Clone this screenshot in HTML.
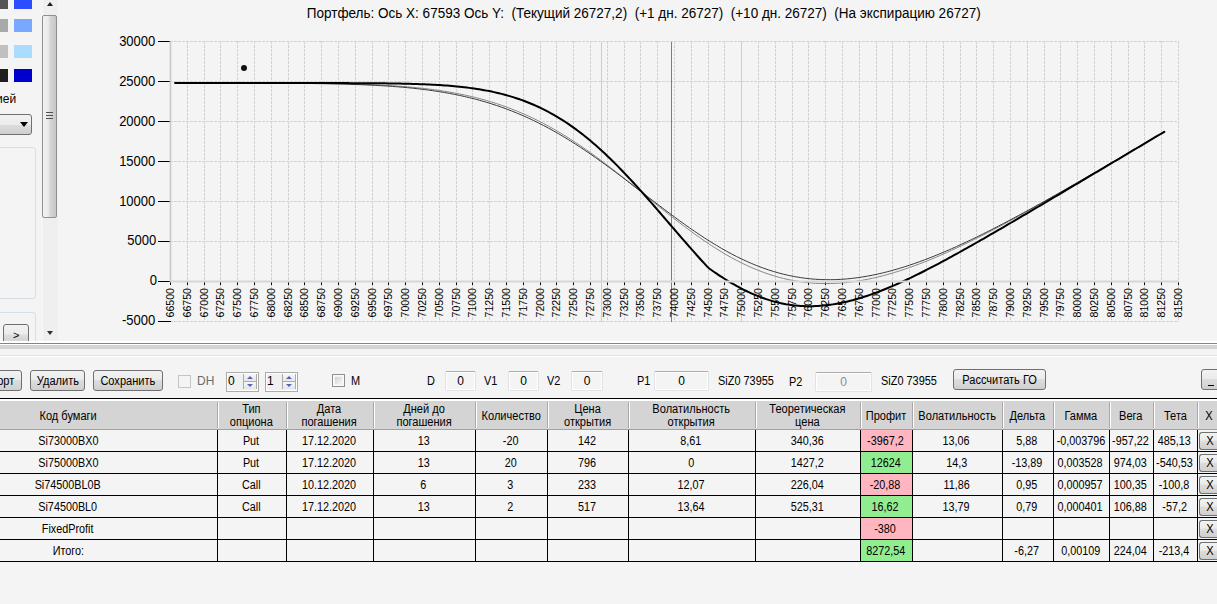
<!DOCTYPE html>
<html><head><meta charset="utf-8"><style>
html,body{margin:0;padding:0}
body{width:1217px;height:604px;overflow:hidden;position:relative;background:#f4f4f4;font-family:"Liberation Sans", sans-serif;color:#000}
.a{position:absolute}

.btn{border:1px solid #707070;border-radius:3px;background:linear-gradient(#f2f2f2 0,#ebebeb 45%,#dddddd 50%,#cfcfcf 100%);display:flex;align-items:center;justify-content:center;white-space:nowrap}
.hd{box-sizing:border-box;padding-top:2px;padding-right:1px;display:flex;align-items:center;justify-content:center;text-align:center;font-size:12px;line-height:13px;white-space:nowrap}
.hd span,.btn span{display:inline-block;transform:scaleX(.92)}
.cell span{display:inline-block;transform:scaleX(.9)}
.cell{box-sizing:border-box;padding-top:1px;padding-right:2px;font-size:12px;line-height:21px;text-align:center;white-space:nowrap}
.lb{font-size:12px;line-height:14px;white-space:nowrap;transform:scaleX(.91);transform-origin:0 0}

</style></head><body>
<svg width="1217" height="341" style="position:absolute;left:0;top:0"><line x1="187.5" y1="41" x2="187.5" y2="321" stroke="#d2d2d2" stroke-dasharray="3,1"/><line x1="204.5" y1="41" x2="204.5" y2="321" stroke="#d2d2d2" stroke-dasharray="3,1"/><line x1="220.5" y1="41" x2="220.5" y2="321" stroke="#d2d2d2" stroke-dasharray="3,1"/><line x1="237.5" y1="41" x2="237.5" y2="321" stroke="#d2d2d2" stroke-dasharray="3,1"/><line x1="254.5" y1="41" x2="254.5" y2="321" stroke="#d2d2d2" stroke-dasharray="3,1"/><line x1="271.5" y1="41" x2="271.5" y2="321" stroke="#d2d2d2" stroke-dasharray="3,1"/><line x1="288.5" y1="41" x2="288.5" y2="321" stroke="#d2d2d2" stroke-dasharray="3,1"/><line x1="304.5" y1="41" x2="304.5" y2="321" stroke="#d2d2d2" stroke-dasharray="3,1"/><line x1="321.5" y1="41" x2="321.5" y2="321" stroke="#d2d2d2" stroke-dasharray="3,1"/><line x1="338.5" y1="41" x2="338.5" y2="321" stroke="#d2d2d2" stroke-dasharray="3,1"/><line x1="355.5" y1="41" x2="355.5" y2="321" stroke="#d2d2d2" stroke-dasharray="3,1"/><line x1="372.5" y1="41" x2="372.5" y2="321" stroke="#d2d2d2" stroke-dasharray="3,1"/><line x1="388.5" y1="41" x2="388.5" y2="321" stroke="#d2d2d2" stroke-dasharray="3,1"/><line x1="405.5" y1="41" x2="405.5" y2="321" stroke="#d2d2d2" stroke-dasharray="3,1"/><line x1="422.5" y1="41" x2="422.5" y2="321" stroke="#d2d2d2" stroke-dasharray="3,1"/><line x1="439.5" y1="41" x2="439.5" y2="321" stroke="#d2d2d2" stroke-dasharray="3,1"/><line x1="456.5" y1="41" x2="456.5" y2="321" stroke="#d2d2d2" stroke-dasharray="3,1"/><line x1="472.5" y1="41" x2="472.5" y2="321" stroke="#d2d2d2" stroke-dasharray="3,1"/><line x1="489.5" y1="41" x2="489.5" y2="321" stroke="#d2d2d2" stroke-dasharray="3,1"/><line x1="506.5" y1="41" x2="506.5" y2="321" stroke="#d2d2d2" stroke-dasharray="3,1"/><line x1="523.5" y1="41" x2="523.5" y2="321" stroke="#d2d2d2" stroke-dasharray="3,1"/><line x1="540.5" y1="41" x2="540.5" y2="321" stroke="#d2d2d2" stroke-dasharray="3,1"/><line x1="556.5" y1="41" x2="556.5" y2="321" stroke="#d2d2d2" stroke-dasharray="3,1"/><line x1="573.5" y1="41" x2="573.5" y2="321" stroke="#d2d2d2" stroke-dasharray="3,1"/><line x1="590.5" y1="41" x2="590.5" y2="321" stroke="#d2d2d2" stroke-dasharray="3,1"/><line x1="607.5" y1="41" x2="607.5" y2="321" stroke="#d2d2d2" stroke-dasharray="3,1"/><line x1="624.5" y1="41" x2="624.5" y2="321" stroke="#d2d2d2" stroke-dasharray="3,1"/><line x1="640.5" y1="41" x2="640.5" y2="321" stroke="#d2d2d2" stroke-dasharray="3,1"/><line x1="657.5" y1="41" x2="657.5" y2="321" stroke="#d2d2d2" stroke-dasharray="3,1"/><line x1="674.5" y1="41" x2="674.5" y2="321" stroke="#d2d2d2" stroke-dasharray="3,1"/><line x1="691.5" y1="41" x2="691.5" y2="321" stroke="#d2d2d2" stroke-dasharray="3,1"/><line x1="708.5" y1="41" x2="708.5" y2="321" stroke="#d2d2d2" stroke-dasharray="3,1"/><line x1="724.5" y1="41" x2="724.5" y2="321" stroke="#d2d2d2" stroke-dasharray="3,1"/><line x1="741.5" y1="41" x2="741.5" y2="321" stroke="#d2d2d2" stroke-dasharray="3,1"/><line x1="758.5" y1="41" x2="758.5" y2="321" stroke="#d2d2d2" stroke-dasharray="3,1"/><line x1="775.5" y1="41" x2="775.5" y2="321" stroke="#d2d2d2" stroke-dasharray="3,1"/><line x1="792.5" y1="41" x2="792.5" y2="321" stroke="#d2d2d2" stroke-dasharray="3,1"/><line x1="808.5" y1="41" x2="808.5" y2="321" stroke="#d2d2d2" stroke-dasharray="3,1"/><line x1="825.5" y1="41" x2="825.5" y2="321" stroke="#d2d2d2" stroke-dasharray="3,1"/><line x1="842.5" y1="41" x2="842.5" y2="321" stroke="#d2d2d2" stroke-dasharray="3,1"/><line x1="859.5" y1="41" x2="859.5" y2="321" stroke="#d2d2d2" stroke-dasharray="3,1"/><line x1="876.5" y1="41" x2="876.5" y2="321" stroke="#d2d2d2" stroke-dasharray="3,1"/><line x1="892.5" y1="41" x2="892.5" y2="321" stroke="#d2d2d2" stroke-dasharray="3,1"/><line x1="909.5" y1="41" x2="909.5" y2="321" stroke="#d2d2d2" stroke-dasharray="3,1"/><line x1="926.5" y1="41" x2="926.5" y2="321" stroke="#d2d2d2" stroke-dasharray="3,1"/><line x1="943.5" y1="41" x2="943.5" y2="321" stroke="#d2d2d2" stroke-dasharray="3,1"/><line x1="960.5" y1="41" x2="960.5" y2="321" stroke="#d2d2d2" stroke-dasharray="3,1"/><line x1="976.5" y1="41" x2="976.5" y2="321" stroke="#d2d2d2" stroke-dasharray="3,1"/><line x1="993.5" y1="41" x2="993.5" y2="321" stroke="#d2d2d2" stroke-dasharray="3,1"/><line x1="1010.5" y1="41" x2="1010.5" y2="321" stroke="#d2d2d2" stroke-dasharray="3,1"/><line x1="1027.5" y1="41" x2="1027.5" y2="321" stroke="#d2d2d2" stroke-dasharray="3,1"/><line x1="1044.5" y1="41" x2="1044.5" y2="321" stroke="#d2d2d2" stroke-dasharray="3,1"/><line x1="1060.5" y1="41" x2="1060.5" y2="321" stroke="#d2d2d2" stroke-dasharray="3,1"/><line x1="1077.5" y1="41" x2="1077.5" y2="321" stroke="#d2d2d2" stroke-dasharray="3,1"/><line x1="1094.5" y1="41" x2="1094.5" y2="321" stroke="#d2d2d2" stroke-dasharray="3,1"/><line x1="1111.5" y1="41" x2="1111.5" y2="321" stroke="#d2d2d2" stroke-dasharray="3,1"/><line x1="1128.5" y1="41" x2="1128.5" y2="321" stroke="#d2d2d2" stroke-dasharray="3,1"/><line x1="1144.5" y1="41" x2="1144.5" y2="321" stroke="#d2d2d2" stroke-dasharray="3,1"/><line x1="1161.5" y1="41" x2="1161.5" y2="321" stroke="#d2d2d2" stroke-dasharray="3,1"/><line x1="1178.5" y1="41" x2="1178.5" y2="321" stroke="#d2d2d2" stroke-dasharray="3,1"/><line x1="170" y1="41.5" x2="1179" y2="41.5" stroke="#d2d2d2" stroke-dasharray="3,1"/><line x1="170" y1="81.5" x2="1179" y2="81.5" stroke="#d2d2d2" stroke-dasharray="3,1"/><line x1="170" y1="121.5" x2="1179" y2="121.5" stroke="#d2d2d2" stroke-dasharray="3,1"/><line x1="170" y1="161.5" x2="1179" y2="161.5" stroke="#d2d2d2" stroke-dasharray="3,1"/><line x1="170" y1="201.5" x2="1179" y2="201.5" stroke="#d2d2d2" stroke-dasharray="3,1"/><line x1="170" y1="241.5" x2="1179" y2="241.5" stroke="#d2d2d2" stroke-dasharray="3,1"/><line x1="170" y1="321.5" x2="1179" y2="321.5" stroke="#d2d2d2" stroke-dasharray="3,1"/><line x1="601.5" y1="42" x2="601.5" y2="322" stroke="#ffb6c1" stroke-width="1"/><line x1="741.5" y1="42" x2="741.5" y2="322" stroke="#ffb6c1" stroke-width="1"/><line x1="671.5" y1="42" x2="671.5" y2="322" stroke="#708090" stroke-width="1"/><text transform="translate(173.5,288) rotate(-90)" text-anchor="end" font-size="10.6" fill="#000" font-family='"Liberation Sans", sans-serif'>66500</text><text transform="translate(190.5,288) rotate(-90)" text-anchor="end" font-size="10.6" fill="#000" font-family='"Liberation Sans", sans-serif'>66750</text><text transform="translate(207.5,288) rotate(-90)" text-anchor="end" font-size="10.6" fill="#000" font-family='"Liberation Sans", sans-serif'>67000</text><text transform="translate(223.5,288) rotate(-90)" text-anchor="end" font-size="10.6" fill="#000" font-family='"Liberation Sans", sans-serif'>67250</text><text transform="translate(240.5,288) rotate(-90)" text-anchor="end" font-size="10.6" fill="#000" font-family='"Liberation Sans", sans-serif'>67500</text><text transform="translate(257.5,288) rotate(-90)" text-anchor="end" font-size="10.6" fill="#000" font-family='"Liberation Sans", sans-serif'>67750</text><text transform="translate(274.5,288) rotate(-90)" text-anchor="end" font-size="10.6" fill="#000" font-family='"Liberation Sans", sans-serif'>68000</text><text transform="translate(291.5,288) rotate(-90)" text-anchor="end" font-size="10.6" fill="#000" font-family='"Liberation Sans", sans-serif'>68250</text><text transform="translate(307.5,288) rotate(-90)" text-anchor="end" font-size="10.6" fill="#000" font-family='"Liberation Sans", sans-serif'>68500</text><text transform="translate(324.5,288) rotate(-90)" text-anchor="end" font-size="10.6" fill="#000" font-family='"Liberation Sans", sans-serif'>68750</text><text transform="translate(341.5,288) rotate(-90)" text-anchor="end" font-size="10.6" fill="#000" font-family='"Liberation Sans", sans-serif'>69000</text><text transform="translate(358.5,288) rotate(-90)" text-anchor="end" font-size="10.6" fill="#000" font-family='"Liberation Sans", sans-serif'>69250</text><text transform="translate(375.5,288) rotate(-90)" text-anchor="end" font-size="10.6" fill="#000" font-family='"Liberation Sans", sans-serif'>69500</text><text transform="translate(391.5,288) rotate(-90)" text-anchor="end" font-size="10.6" fill="#000" font-family='"Liberation Sans", sans-serif'>69750</text><text transform="translate(408.5,288) rotate(-90)" text-anchor="end" font-size="10.6" fill="#000" font-family='"Liberation Sans", sans-serif'>70000</text><text transform="translate(425.5,288) rotate(-90)" text-anchor="end" font-size="10.6" fill="#000" font-family='"Liberation Sans", sans-serif'>70250</text><text transform="translate(442.5,288) rotate(-90)" text-anchor="end" font-size="10.6" fill="#000" font-family='"Liberation Sans", sans-serif'>70500</text><text transform="translate(459.5,288) rotate(-90)" text-anchor="end" font-size="10.6" fill="#000" font-family='"Liberation Sans", sans-serif'>70750</text><text transform="translate(475.5,288) rotate(-90)" text-anchor="end" font-size="10.6" fill="#000" font-family='"Liberation Sans", sans-serif'>71000</text><text transform="translate(492.5,288) rotate(-90)" text-anchor="end" font-size="10.6" fill="#000" font-family='"Liberation Sans", sans-serif'>71250</text><text transform="translate(509.5,288) rotate(-90)" text-anchor="end" font-size="10.6" fill="#000" font-family='"Liberation Sans", sans-serif'>71500</text><text transform="translate(526.5,288) rotate(-90)" text-anchor="end" font-size="10.6" fill="#000" font-family='"Liberation Sans", sans-serif'>71750</text><text transform="translate(543.5,288) rotate(-90)" text-anchor="end" font-size="10.6" fill="#000" font-family='"Liberation Sans", sans-serif'>72000</text><text transform="translate(559.5,288) rotate(-90)" text-anchor="end" font-size="10.6" fill="#000" font-family='"Liberation Sans", sans-serif'>72250</text><text transform="translate(576.5,288) rotate(-90)" text-anchor="end" font-size="10.6" fill="#000" font-family='"Liberation Sans", sans-serif'>72500</text><text transform="translate(593.5,288) rotate(-90)" text-anchor="end" font-size="10.6" fill="#000" font-family='"Liberation Sans", sans-serif'>72750</text><text transform="translate(610.5,288) rotate(-90)" text-anchor="end" font-size="10.6" fill="#000" font-family='"Liberation Sans", sans-serif'>73000</text><text transform="translate(627.5,288) rotate(-90)" text-anchor="end" font-size="10.6" fill="#000" font-family='"Liberation Sans", sans-serif'>73250</text><text transform="translate(643.5,288) rotate(-90)" text-anchor="end" font-size="10.6" fill="#000" font-family='"Liberation Sans", sans-serif'>73500</text><text transform="translate(660.5,288) rotate(-90)" text-anchor="end" font-size="10.6" fill="#000" font-family='"Liberation Sans", sans-serif'>73750</text><text transform="translate(677.5,288) rotate(-90)" text-anchor="end" font-size="10.6" fill="#000" font-family='"Liberation Sans", sans-serif'>74000</text><text transform="translate(694.5,288) rotate(-90)" text-anchor="end" font-size="10.6" fill="#000" font-family='"Liberation Sans", sans-serif'>74250</text><text transform="translate(711.5,288) rotate(-90)" text-anchor="end" font-size="10.6" fill="#000" font-family='"Liberation Sans", sans-serif'>74500</text><text transform="translate(727.5,288) rotate(-90)" text-anchor="end" font-size="10.6" fill="#000" font-family='"Liberation Sans", sans-serif'>74750</text><text transform="translate(744.5,288) rotate(-90)" text-anchor="end" font-size="10.6" fill="#000" font-family='"Liberation Sans", sans-serif'>75000</text><text transform="translate(761.5,288) rotate(-90)" text-anchor="end" font-size="10.6" fill="#000" font-family='"Liberation Sans", sans-serif'>75250</text><text transform="translate(778.5,288) rotate(-90)" text-anchor="end" font-size="10.6" fill="#000" font-family='"Liberation Sans", sans-serif'>75500</text><text transform="translate(795.5,288) rotate(-90)" text-anchor="end" font-size="10.6" fill="#000" font-family='"Liberation Sans", sans-serif'>75750</text><text transform="translate(811.5,288) rotate(-90)" text-anchor="end" font-size="10.6" fill="#000" font-family='"Liberation Sans", sans-serif'>76000</text><text transform="translate(828.5,288) rotate(-90)" text-anchor="end" font-size="10.6" fill="#000" font-family='"Liberation Sans", sans-serif'>76250</text><text transform="translate(845.5,288) rotate(-90)" text-anchor="end" font-size="10.6" fill="#000" font-family='"Liberation Sans", sans-serif'>76500</text><text transform="translate(862.5,288) rotate(-90)" text-anchor="end" font-size="10.6" fill="#000" font-family='"Liberation Sans", sans-serif'>76750</text><text transform="translate(879.5,288) rotate(-90)" text-anchor="end" font-size="10.6" fill="#000" font-family='"Liberation Sans", sans-serif'>77000</text><text transform="translate(895.5,288) rotate(-90)" text-anchor="end" font-size="10.6" fill="#000" font-family='"Liberation Sans", sans-serif'>77250</text><text transform="translate(912.5,288) rotate(-90)" text-anchor="end" font-size="10.6" fill="#000" font-family='"Liberation Sans", sans-serif'>77500</text><text transform="translate(929.5,288) rotate(-90)" text-anchor="end" font-size="10.6" fill="#000" font-family='"Liberation Sans", sans-serif'>77750</text><text transform="translate(946.5,288) rotate(-90)" text-anchor="end" font-size="10.6" fill="#000" font-family='"Liberation Sans", sans-serif'>78000</text><text transform="translate(963.5,288) rotate(-90)" text-anchor="end" font-size="10.6" fill="#000" font-family='"Liberation Sans", sans-serif'>78250</text><text transform="translate(979.5,288) rotate(-90)" text-anchor="end" font-size="10.6" fill="#000" font-family='"Liberation Sans", sans-serif'>78500</text><text transform="translate(996.5,288) rotate(-90)" text-anchor="end" font-size="10.6" fill="#000" font-family='"Liberation Sans", sans-serif'>78750</text><text transform="translate(1013.5,288) rotate(-90)" text-anchor="end" font-size="10.6" fill="#000" font-family='"Liberation Sans", sans-serif'>79000</text><text transform="translate(1030.5,288) rotate(-90)" text-anchor="end" font-size="10.6" fill="#000" font-family='"Liberation Sans", sans-serif'>79250</text><text transform="translate(1047.5,288) rotate(-90)" text-anchor="end" font-size="10.6" fill="#000" font-family='"Liberation Sans", sans-serif'>79500</text><text transform="translate(1063.5,288) rotate(-90)" text-anchor="end" font-size="10.6" fill="#000" font-family='"Liberation Sans", sans-serif'>79750</text><text transform="translate(1080.5,288) rotate(-90)" text-anchor="end" font-size="10.6" fill="#000" font-family='"Liberation Sans", sans-serif'>80000</text><text transform="translate(1097.5,288) rotate(-90)" text-anchor="end" font-size="10.6" fill="#000" font-family='"Liberation Sans", sans-serif'>80250</text><text transform="translate(1114.5,288) rotate(-90)" text-anchor="end" font-size="10.6" fill="#000" font-family='"Liberation Sans", sans-serif'>80500</text><text transform="translate(1131.5,288) rotate(-90)" text-anchor="end" font-size="10.6" fill="#000" font-family='"Liberation Sans", sans-serif'>80750</text><text transform="translate(1147.5,288) rotate(-90)" text-anchor="end" font-size="10.6" fill="#000" font-family='"Liberation Sans", sans-serif'>81000</text><text transform="translate(1164.5,288) rotate(-90)" text-anchor="end" font-size="10.6" fill="#000" font-family='"Liberation Sans", sans-serif'>81250</text><text transform="translate(1181.5,288) rotate(-90)" text-anchor="end" font-size="10.6" fill="#000" font-family='"Liberation Sans", sans-serif'>81500</text><line x1="170.5" y1="282" x2="170.5" y2="285" stroke="#000"/><line x1="187.5" y1="282" x2="187.5" y2="285" stroke="#000"/><line x1="204.5" y1="282" x2="204.5" y2="285" stroke="#000"/><line x1="220.5" y1="282" x2="220.5" y2="285" stroke="#000"/><line x1="237.5" y1="282" x2="237.5" y2="285" stroke="#000"/><line x1="254.5" y1="282" x2="254.5" y2="285" stroke="#000"/><line x1="271.5" y1="282" x2="271.5" y2="285" stroke="#000"/><line x1="288.5" y1="282" x2="288.5" y2="285" stroke="#000"/><line x1="304.5" y1="282" x2="304.5" y2="285" stroke="#000"/><line x1="321.5" y1="282" x2="321.5" y2="285" stroke="#000"/><line x1="338.5" y1="282" x2="338.5" y2="285" stroke="#000"/><line x1="355.5" y1="282" x2="355.5" y2="285" stroke="#000"/><line x1="372.5" y1="282" x2="372.5" y2="285" stroke="#000"/><line x1="388.5" y1="282" x2="388.5" y2="285" stroke="#000"/><line x1="405.5" y1="282" x2="405.5" y2="285" stroke="#000"/><line x1="422.5" y1="282" x2="422.5" y2="285" stroke="#000"/><line x1="439.5" y1="282" x2="439.5" y2="285" stroke="#000"/><line x1="456.5" y1="282" x2="456.5" y2="285" stroke="#000"/><line x1="472.5" y1="282" x2="472.5" y2="285" stroke="#000"/><line x1="489.5" y1="282" x2="489.5" y2="285" stroke="#000"/><line x1="506.5" y1="282" x2="506.5" y2="285" stroke="#000"/><line x1="523.5" y1="282" x2="523.5" y2="285" stroke="#000"/><line x1="540.5" y1="282" x2="540.5" y2="285" stroke="#000"/><line x1="556.5" y1="282" x2="556.5" y2="285" stroke="#000"/><line x1="573.5" y1="282" x2="573.5" y2="285" stroke="#000"/><line x1="590.5" y1="282" x2="590.5" y2="285" stroke="#000"/><line x1="607.5" y1="282" x2="607.5" y2="285" stroke="#000"/><line x1="624.5" y1="282" x2="624.5" y2="285" stroke="#000"/><line x1="640.5" y1="282" x2="640.5" y2="285" stroke="#000"/><line x1="657.5" y1="282" x2="657.5" y2="285" stroke="#000"/><line x1="674.5" y1="282" x2="674.5" y2="285" stroke="#000"/><line x1="691.5" y1="282" x2="691.5" y2="285" stroke="#000"/><line x1="708.5" y1="282" x2="708.5" y2="285" stroke="#000"/><line x1="724.5" y1="282" x2="724.5" y2="285" stroke="#000"/><line x1="741.5" y1="282" x2="741.5" y2="285" stroke="#000"/><line x1="758.5" y1="282" x2="758.5" y2="285" stroke="#000"/><line x1="775.5" y1="282" x2="775.5" y2="285" stroke="#000"/><line x1="792.5" y1="282" x2="792.5" y2="285" stroke="#000"/><line x1="808.5" y1="282" x2="808.5" y2="285" stroke="#000"/><line x1="825.5" y1="282" x2="825.5" y2="285" stroke="#000"/><line x1="842.5" y1="282" x2="842.5" y2="285" stroke="#000"/><line x1="859.5" y1="282" x2="859.5" y2="285" stroke="#000"/><line x1="876.5" y1="282" x2="876.5" y2="285" stroke="#000"/><line x1="892.5" y1="282" x2="892.5" y2="285" stroke="#000"/><line x1="909.5" y1="282" x2="909.5" y2="285" stroke="#000"/><line x1="926.5" y1="282" x2="926.5" y2="285" stroke="#000"/><line x1="943.5" y1="282" x2="943.5" y2="285" stroke="#000"/><line x1="960.5" y1="282" x2="960.5" y2="285" stroke="#000"/><line x1="976.5" y1="282" x2="976.5" y2="285" stroke="#000"/><line x1="993.5" y1="282" x2="993.5" y2="285" stroke="#000"/><line x1="1010.5" y1="282" x2="1010.5" y2="285" stroke="#000"/><line x1="1027.5" y1="282" x2="1027.5" y2="285" stroke="#000"/><line x1="1044.5" y1="282" x2="1044.5" y2="285" stroke="#000"/><line x1="1060.5" y1="282" x2="1060.5" y2="285" stroke="#000"/><line x1="1077.5" y1="282" x2="1077.5" y2="285" stroke="#000"/><line x1="1094.5" y1="282" x2="1094.5" y2="285" stroke="#000"/><line x1="1111.5" y1="282" x2="1111.5" y2="285" stroke="#000"/><line x1="1128.5" y1="282" x2="1128.5" y2="285" stroke="#000"/><line x1="1144.5" y1="282" x2="1144.5" y2="285" stroke="#000"/><line x1="1161.5" y1="282" x2="1161.5" y2="285" stroke="#000"/><line x1="1178.5" y1="282" x2="1178.5" y2="285" stroke="#000"/><line x1="158" y1="41.5" x2="171" y2="41.5" stroke="#000"/><text transform="translate(155.3,45.5) scale(0.93,1)" text-anchor="end" font-size="14" fill="#000" font-family='"Liberation Sans", sans-serif'>30000</text><line x1="158" y1="81.5" x2="171" y2="81.5" stroke="#000"/><text transform="translate(155.3,85.5) scale(0.93,1)" text-anchor="end" font-size="14" fill="#000" font-family='"Liberation Sans", sans-serif'>25000</text><line x1="158" y1="121.5" x2="171" y2="121.5" stroke="#000"/><text transform="translate(155.3,125.5) scale(0.93,1)" text-anchor="end" font-size="14" fill="#000" font-family='"Liberation Sans", sans-serif'>20000</text><line x1="158" y1="161.5" x2="171" y2="161.5" stroke="#000"/><text transform="translate(155.3,165.5) scale(0.93,1)" text-anchor="end" font-size="14" fill="#000" font-family='"Liberation Sans", sans-serif'>15000</text><line x1="158" y1="201.5" x2="171" y2="201.5" stroke="#000"/><text transform="translate(155.3,205.5) scale(0.93,1)" text-anchor="end" font-size="14" fill="#000" font-family='"Liberation Sans", sans-serif'>10000</text><line x1="158" y1="241.5" x2="171" y2="241.5" stroke="#000"/><text transform="translate(156.3,244.5) scale(0.93,1)" text-anchor="end" font-size="14" fill="#000" font-family='"Liberation Sans", sans-serif'>5000</text><line x1="158" y1="281.5" x2="171" y2="281.5" stroke="#000"/><text transform="translate(157.10000000000002,284.5) scale(0.93,1)" text-anchor="end" font-size="14" fill="#000" font-family='"Liberation Sans", sans-serif'>0</text><line x1="158" y1="321.5" x2="171" y2="321.5" stroke="#000"/><text transform="translate(155.3,324.5) scale(0.93,1)" text-anchor="end" font-size="14" fill="#000" font-family='"Liberation Sans", sans-serif'>-5000</text><path d="M175.03,83.05 L177.51,83.05 L179.98,83.05 L182.45,83.05 L184.92,83.05 L187.40,83.05 L189.87,83.05 L192.34,83.05 L194.82,83.05 L197.29,83.05 L199.76,83.05 L202.24,83.05 L204.71,83.05 L207.18,83.05 L209.66,83.05 L212.13,83.06 L214.60,83.06 L217.08,83.06 L219.55,83.06 L222.02,83.06 L224.49,83.06 L226.97,83.06 L229.44,83.07 L231.91,83.07 L234.39,83.07 L236.86,83.07 L239.33,83.08 L241.81,83.08 L244.28,83.08 L246.75,83.09 L249.23,83.09 L251.70,83.09 L254.17,83.10 L256.65,83.10 L259.12,83.11 L261.59,83.11 L264.06,83.12 L266.54,83.13 L269.01,83.13 L271.48,83.14 L273.96,83.15 L276.43,83.16 L278.90,83.17 L281.38,83.18 L283.85,83.19 L286.32,83.20 L288.80,83.21 L291.27,83.22 L293.74,83.24 L296.22,83.25 L298.69,83.27 L301.16,83.29 L303.63,83.31 L306.11,83.33 L308.58,83.35 L311.05,83.37 L313.53,83.39 L316.00,83.42 L318.47,83.45 L320.95,83.48 L323.42,83.51 L325.89,83.54 L328.37,83.58 L330.84,83.62 L333.31,83.66 L335.79,83.70 L338.26,83.75 L340.73,83.79 L343.20,83.85 L345.68,83.90 L348.15,83.96 L350.62,84.02 L353.10,84.09 L355.57,84.15 L358.04,84.23 L360.52,84.30 L362.99,84.39 L365.46,84.47 L367.94,84.56 L370.41,84.66 L372.88,84.76 L375.36,84.87 L377.83,84.98 L380.30,85.10 L382.77,85.22 L385.25,85.35 L387.72,85.49 L390.19,85.64 L392.67,85.79 L395.14,85.95 L397.61,86.12 L400.09,86.29 L402.56,86.48 L405.03,86.67 L407.51,86.88 L409.98,87.09 L412.45,87.31 L414.93,87.55 L417.40,87.79 L419.87,88.04 L422.34,88.31 L424.82,88.59 L427.29,88.88 L429.76,89.18 L432.24,89.50 L434.71,89.83 L437.18,90.17 L439.66,90.53 L442.13,90.90 L444.60,91.28 L447.08,91.68 L449.55,92.10 L452.02,92.54 L454.50,92.99 L456.97,93.45 L459.44,93.94 L461.91,94.44 L464.39,94.96 L466.86,95.50 L469.33,96.06 L471.81,96.64 L474.28,97.24 L476.75,97.86 L479.23,98.50 L481.70,99.16 L484.17,99.84 L486.65,100.54 L489.12,101.27 L491.59,102.02 L494.07,102.79 L496.54,103.58 L499.01,104.40 L501.48,105.25 L503.96,106.11 L506.43,107.01 L508.90,107.92 L511.38,108.87 L513.85,109.83 L516.32,110.83 L518.80,111.84 L521.27,112.89 L523.74,113.96 L526.22,115.06 L528.69,116.18 L531.16,117.33 L533.64,118.51 L536.11,119.71 L538.58,120.94 L541.05,122.20 L543.53,123.49 L546.00,124.80 L548.47,126.14 L550.95,127.50 L553.42,128.89 L555.89,130.31 L558.37,131.75 L560.84,133.22 L563.31,134.72 L565.79,136.24 L568.26,137.79 L570.73,139.36 L573.21,140.95 L575.68,142.57 L578.15,144.22 L580.62,145.88 L583.10,147.57 L585.57,149.29 L588.04,151.02 L590.52,152.77 L592.99,154.55 L595.46,156.34 L597.94,158.16 L600.41,159.99 L602.88,161.84 L605.36,163.71 L607.83,165.59 L610.30,167.49 L612.78,169.40 L615.25,171.33 L617.72,173.27 L620.20,175.22 L622.67,177.18 L625.14,179.15 L627.61,181.13 L630.09,183.12 L632.56,185.11 L635.03,187.11 L637.51,189.11 L639.98,191.12 L642.45,193.13 L644.93,195.14 L647.40,197.15 L649.87,199.16 L652.35,201.17 L654.82,203.17 L657.29,205.17 L659.77,207.16 L662.24,209.15 L664.71,211.13 L667.18,213.09 L669.66,215.05 L672.13,217.00 L674.60,218.93 L677.08,220.86 L679.55,222.76 L682.02,224.65 L684.50,226.52 L686.97,228.38 L689.44,230.22 L691.92,232.03 L694.39,233.83 L696.86,235.60 L699.34,237.35 L701.81,239.07 L704.28,240.78 L706.75,242.45 L709.23,244.10 L711.70,245.72 L714.17,247.32 L716.65,248.88 L719.12,250.42 L721.59,251.92 L724.07,253.40 L726.54,254.84 L729.01,256.25 L731.49,257.63 L733.96,258.97 L736.43,260.29 L738.91,261.56 L741.38,262.81 L743.85,264.02 L746.32,265.19 L748.80,266.33 L751.27,267.43 L753.74,268.50 L756.22,269.53 L758.69,270.52 L761.16,271.48 L763.64,272.40 L766.11,273.28 L768.58,274.13 L771.06,274.94 L773.53,275.71 L776.00,276.45 L778.48,277.14 L780.95,277.81 L783.42,278.43 L785.89,279.02 L788.37,279.57 L790.84,280.09 L793.31,280.56 L795.79,281.01 L798.26,281.41 L800.73,281.78 L803.21,282.12 L805.68,282.42 L808.15,282.68 L810.63,282.91 L813.10,283.11 L815.57,283.27 L818.05,283.39 L820.52,283.48 L822.99,283.54 L825.46,283.57 L827.94,283.56 L830.41,283.52 L832.88,283.45 L835.36,283.35 L837.83,283.21 L840.30,283.05 L842.78,282.85 L845.25,282.63 L847.72,282.37 L850.20,282.09 L852.67,281.77 L855.14,281.43 L857.62,281.06 L860.09,280.66 L862.56,280.23 L865.03,279.78 L867.51,279.30 L869.98,278.80 L872.45,278.26 L874.93,277.71 L877.40,277.13 L879.87,276.52 L882.35,275.89 L884.82,275.24 L887.29,274.57 L889.77,273.87 L892.24,273.15 L894.71,272.41 L897.19,271.64 L899.66,270.86 L902.13,270.06 L904.60,269.23 L907.08,268.39 L909.55,267.52 L912.02,266.64 L914.50,265.74 L916.97,264.83 L919.44,263.89 L921.92,262.94 L924.39,261.97 L926.86,260.98 L929.34,259.98 L931.81,258.97 L934.28,257.93 L936.76,256.89 L939.23,255.83 L941.70,254.75 L944.17,253.66 L946.65,252.56 L949.12,251.45 L951.59,250.32 L954.07,249.18 L956.54,248.03 L959.01,246.87 L961.49,245.69 L963.96,244.51 L966.43,243.31 L968.91,242.11 L971.38,240.89 L973.85,239.67 L976.33,238.43 L978.80,237.19 L981.27,235.94 L983.74,234.68 L986.22,233.41 L988.69,232.13 L991.16,230.85 L993.64,229.55 L996.11,228.26 L998.58,226.95 L1001.06,225.64 L1003.53,224.32 L1006.00,222.99 L1008.48,221.66 L1010.95,220.32 L1013.42,218.98 L1015.90,217.63 L1018.37,216.28 L1020.84,214.92 L1023.31,213.55 L1025.79,212.19 L1028.26,210.81 L1030.73,209.44 L1033.21,208.06 L1035.68,206.67 L1038.15,205.28 L1040.63,203.89 L1043.10,202.49 L1045.57,201.09 L1048.05,199.69 L1050.52,198.28 L1052.99,196.87 L1055.47,195.46 L1057.94,194.05 L1060.41,192.63 L1062.88,191.21 L1065.36,189.78 L1067.83,188.36 L1070.30,186.93 L1072.78,185.50 L1075.25,184.07 L1077.72,182.64 L1080.20,181.20 L1082.67,179.77 L1085.14,178.33 L1087.62,176.89 L1090.09,175.44 L1092.56,174.00 L1095.04,172.56 L1097.51,171.11 L1099.98,169.66 L1102.45,168.21 L1104.93,166.76 L1107.40,165.31 L1109.87,163.86 L1112.35,162.40 L1114.82,160.95 L1117.29,159.49 L1119.77,158.04 L1122.24,156.58 L1124.71,155.12 L1127.19,153.67 L1129.66,152.21 L1132.13,150.75 L1134.61,149.29 L1137.08,147.82 L1139.55,146.36 L1142.03,144.90 L1144.50,143.44 L1146.97,141.97 L1149.44,140.51 L1151.92,139.04 L1154.39,137.58 L1156.86,136.11 L1159.34,134.65 L1161.81,133.18 L1164.28,131.72" fill="none" stroke="#858585" stroke-width="1"/><path d="M175.03,83.05 L177.51,83.05 L179.98,83.05 L182.45,83.05 L184.92,83.05 L187.40,83.05 L189.87,83.05 L192.34,83.05 L194.82,83.06 L197.29,83.06 L199.76,83.06 L202.24,83.06 L204.71,83.06 L207.18,83.06 L209.66,83.06 L212.13,83.07 L214.60,83.07 L217.08,83.07 L219.55,83.07 L222.02,83.07 L224.49,83.08 L226.97,83.08 L229.44,83.08 L231.91,83.09 L234.39,83.09 L236.86,83.09 L239.33,83.10 L241.81,83.10 L244.28,83.11 L246.75,83.11 L249.23,83.12 L251.70,83.12 L254.17,83.13 L256.65,83.14 L259.12,83.15 L261.59,83.15 L264.06,83.16 L266.54,83.17 L269.01,83.18 L271.48,83.19 L273.96,83.20 L276.43,83.22 L278.90,83.23 L281.38,83.24 L283.85,83.26 L286.32,83.27 L288.80,83.29 L291.27,83.31 L293.74,83.33 L296.22,83.35 L298.69,83.37 L301.16,83.40 L303.63,83.42 L306.11,83.45 L308.58,83.48 L311.05,83.51 L313.53,83.54 L316.00,83.57 L318.47,83.61 L320.95,83.65 L323.42,83.69 L325.89,83.73 L328.37,83.78 L330.84,83.83 L333.31,83.88 L335.79,83.93 L338.26,83.99 L340.73,84.05 L343.20,84.12 L345.68,84.19 L348.15,84.26 L350.62,84.33 L353.10,84.41 L355.57,84.50 L358.04,84.59 L360.52,84.68 L362.99,84.78 L365.46,84.88 L367.94,84.99 L370.41,85.11 L372.88,85.23 L375.36,85.36 L377.83,85.49 L380.30,85.63 L382.77,85.78 L385.25,85.93 L387.72,86.09 L390.19,86.26 L392.67,86.44 L395.14,86.62 L397.61,86.82 L400.09,87.02 L402.56,87.23 L405.03,87.45 L407.51,87.68 L409.98,87.92 L412.45,88.17 L414.93,88.43 L417.40,88.71 L419.87,88.99 L422.34,89.29 L424.82,89.60 L427.29,89.92 L429.76,90.25 L432.24,90.60 L434.71,90.96 L437.18,91.33 L439.66,91.72 L442.13,92.13 L444.60,92.55 L447.08,92.98 L449.55,93.43 L452.02,93.90 L454.50,94.38 L456.97,94.88 L459.44,95.39 L461.91,95.93 L464.39,96.48 L466.86,97.05 L469.33,97.64 L471.81,98.25 L474.28,98.88 L476.75,99.53 L479.23,100.20 L481.70,100.89 L484.17,101.60 L486.65,102.33 L489.12,103.08 L491.59,103.85 L494.07,104.65 L496.54,105.47 L499.01,106.31 L501.48,107.17 L503.96,108.06 L506.43,108.97 L508.90,109.90 L511.38,110.86 L513.85,111.84 L516.32,112.85 L518.80,113.87 L521.27,114.93 L523.74,116.01 L526.22,117.11 L528.69,118.23 L531.16,119.39 L533.64,120.56 L536.11,121.76 L538.58,122.99 L541.05,124.24 L543.53,125.51 L546.00,126.81 L548.47,128.13 L550.95,129.48 L553.42,130.85 L555.89,132.25 L558.37,133.67 L560.84,135.11 L563.31,136.57 L565.79,138.06 L568.26,139.57 L570.73,141.10 L573.21,142.66 L575.68,144.23 L578.15,145.83 L580.62,147.45 L583.10,149.08 L585.57,150.74 L588.04,152.42 L590.52,154.11 L592.99,155.82 L595.46,157.55 L597.94,159.29 L600.41,161.06 L602.88,162.83 L605.36,164.62 L607.83,166.43 L610.30,168.24 L612.78,170.07 L615.25,171.91 L617.72,173.76 L620.20,175.62 L622.67,177.49 L625.14,179.37 L627.61,181.25 L630.09,183.14 L632.56,185.04 L635.03,186.94 L637.51,188.84 L639.98,190.75 L642.45,192.65 L644.93,194.56 L647.40,196.46 L649.87,198.37 L652.35,200.27 L654.82,202.16 L657.29,204.06 L659.77,205.94 L662.24,207.82 L664.71,209.69 L667.18,211.56 L669.66,213.41 L672.13,215.25 L674.60,217.08 L677.08,218.90 L679.55,220.70 L682.02,222.49 L684.50,224.27 L686.97,226.02 L689.44,227.76 L691.92,229.49 L694.39,231.19 L696.86,232.87 L699.34,234.53 L701.81,236.17 L704.28,237.79 L706.75,239.38 L709.23,240.95 L711.70,242.50 L714.17,244.01 L716.65,245.51 L719.12,246.97 L721.59,248.41 L724.07,249.82 L726.54,251.21 L729.01,252.56 L731.49,253.88 L733.96,255.18 L736.43,256.44 L738.91,257.67 L741.38,258.87 L743.85,260.04 L746.32,261.18 L748.80,262.28 L751.27,263.35 L753.74,264.39 L756.22,265.39 L758.69,266.36 L761.16,267.30 L763.64,268.20 L766.11,269.07 L768.58,269.91 L771.06,270.71 L773.53,271.47 L776.00,272.20 L778.48,272.90 L780.95,273.56 L783.42,274.19 L785.89,274.78 L788.37,275.34 L790.84,275.87 L793.31,276.36 L795.79,276.81 L798.26,277.23 L800.73,277.62 L803.21,277.97 L805.68,278.29 L808.15,278.58 L810.63,278.83 L813.10,279.06 L815.57,279.24 L818.05,279.40 L820.52,279.52 L822.99,279.61 L825.46,279.67 L827.94,279.70 L830.41,279.69 L832.88,279.66 L835.36,279.59 L837.83,279.50 L840.30,279.37 L842.78,279.22 L845.25,279.03 L847.72,278.82 L850.20,278.58 L852.67,278.31 L855.14,278.01 L857.62,277.68 L860.09,277.33 L862.56,276.95 L865.03,276.54 L867.51,276.11 L869.98,275.65 L872.45,275.17 L874.93,274.66 L877.40,274.13 L879.87,273.57 L882.35,272.99 L884.82,272.39 L887.29,271.76 L889.77,271.12 L892.24,270.44 L894.71,269.75 L897.19,269.04 L899.66,268.30 L902.13,267.55 L904.60,266.77 L907.08,265.98 L909.55,265.16 L912.02,264.33 L914.50,263.48 L916.97,262.61 L919.44,261.72 L921.92,260.82 L924.39,259.90 L926.86,258.96 L929.34,258.00 L931.81,257.03 L934.28,256.04 L936.76,255.04 L939.23,254.03 L941.70,253.00 L944.17,251.95 L946.65,250.89 L949.12,249.82 L951.59,248.73 L954.07,247.64 L956.54,246.53 L959.01,245.40 L961.49,244.27 L963.96,243.12 L966.43,241.97 L968.91,240.80 L971.38,239.62 L973.85,238.43 L976.33,237.23 L978.80,236.02 L981.27,234.81 L983.74,233.58 L986.22,232.34 L988.69,231.10 L991.16,229.85 L993.64,228.59 L996.11,227.32 L998.58,226.04 L1001.06,224.76 L1003.53,223.47 L1006.00,222.17 L1008.48,220.86 L1010.95,219.55 L1013.42,218.23 L1015.90,216.91 L1018.37,215.58 L1020.84,214.25 L1023.31,212.91 L1025.79,211.56 L1028.26,210.21 L1030.73,208.85 L1033.21,207.49 L1035.68,206.13 L1038.15,204.76 L1040.63,203.39 L1043.10,202.01 L1045.57,200.63 L1048.05,199.24 L1050.52,197.85 L1052.99,196.46 L1055.47,195.06 L1057.94,193.66 L1060.41,192.26 L1062.88,190.85 L1065.36,189.45 L1067.83,188.03 L1070.30,186.62 L1072.78,185.20 L1075.25,183.78 L1077.72,182.36 L1080.20,180.94 L1082.67,179.51 L1085.14,178.08 L1087.62,176.65 L1090.09,175.22 L1092.56,173.79 L1095.04,172.35 L1097.51,170.91 L1099.98,169.47 L1102.45,168.03 L1104.93,166.59 L1107.40,165.15 L1109.87,163.70 L1112.35,162.26 L1114.82,160.81 L1117.29,159.36 L1119.77,157.91 L1122.24,156.46 L1124.71,155.01 L1127.19,153.55 L1129.66,152.10 L1132.13,150.64 L1134.61,149.19 L1137.08,147.73 L1139.55,146.27 L1142.03,144.82 L1144.50,143.36 L1146.97,141.90 L1149.44,140.44 L1151.92,138.98 L1154.39,137.51 L1156.86,136.05 L1159.34,134.59 L1161.81,133.13 L1164.28,131.66" fill="none" stroke="#383838" stroke-width="1"/><path d="M175.03,83.04 L177.51,83.04 L179.98,83.04 L182.45,83.04 L184.92,83.04 L187.40,83.04 L189.87,83.04 L192.34,83.04 L194.82,83.04 L197.29,83.04 L199.76,83.04 L202.24,83.04 L204.71,83.04 L207.18,83.04 L209.66,83.04 L212.13,83.04 L214.60,83.04 L217.08,83.04 L219.55,83.04 L222.02,83.04 L224.49,83.04 L226.97,83.04 L229.44,83.04 L231.91,83.04 L234.39,83.04 L236.86,83.04 L239.33,83.04 L241.81,83.04 L244.28,83.04 L246.75,83.04 L249.23,83.04 L251.70,83.04 L254.17,83.04 L256.65,83.04 L259.12,83.05 L261.59,83.05 L264.06,83.05 L266.54,83.05 L269.01,83.05 L271.48,83.05 L273.96,83.05 L276.43,83.05 L278.90,83.05 L281.38,83.05 L283.85,83.05 L286.32,83.05 L288.80,83.05 L291.27,83.05 L293.74,83.05 L296.22,83.05 L298.69,83.05 L301.16,83.05 L303.63,83.05 L306.11,83.06 L308.58,83.06 L311.05,83.06 L313.53,83.06 L316.00,83.06 L318.47,83.06 L320.95,83.07 L323.42,83.07 L325.89,83.07 L328.37,83.08 L330.84,83.08 L333.31,83.08 L335.79,83.09 L338.26,83.09 L340.73,83.10 L343.20,83.11 L345.68,83.11 L348.15,83.12 L350.62,83.13 L353.10,83.14 L355.57,83.15 L358.04,83.16 L360.52,83.17 L362.99,83.18 L365.46,83.20 L367.94,83.21 L370.41,83.23 L372.88,83.25 L375.36,83.27 L377.83,83.29 L380.30,83.32 L382.77,83.34 L385.25,83.37 L387.72,83.40 L390.19,83.44 L392.67,83.48 L395.14,83.52 L397.61,83.56 L400.09,83.61 L402.56,83.66 L405.03,83.71 L407.51,83.77 L409.98,83.84 L412.45,83.91 L414.93,83.98 L417.40,84.06 L419.87,84.15 L422.34,84.24 L424.82,84.34 L427.29,84.45 L429.76,84.56 L432.24,84.68 L434.71,84.82 L437.18,84.96 L439.66,85.11 L442.13,85.27 L444.60,85.44 L447.08,85.62 L449.55,85.81 L452.02,86.02 L454.50,86.24 L456.97,86.47 L459.44,86.72 L461.91,86.99 L464.39,87.27 L466.86,87.56 L469.33,87.87 L471.81,88.20 L474.28,88.55 L476.75,88.92 L479.23,89.31 L481.70,89.73 L484.17,90.16 L486.65,90.61 L489.12,91.09 L491.59,91.60 L494.07,92.13 L496.54,92.69 L499.01,93.27 L501.48,93.88 L503.96,94.52 L506.43,95.19 L508.90,95.89 L511.38,96.63 L513.85,97.39 L516.32,98.19 L518.80,99.02 L521.27,99.89 L523.74,100.79 L526.22,101.73 L528.69,102.71 L531.16,103.72 L533.64,104.78 L536.11,105.87 L538.58,107.01 L541.05,108.18 L543.53,109.40 L546.00,110.65 L548.47,111.95 L550.95,113.30 L553.42,114.68 L555.89,116.11 L558.37,117.59 L560.84,119.11 L563.31,120.67 L565.79,122.28 L568.26,123.93 L570.73,125.63 L573.21,127.38 L575.68,129.17 L578.15,131.00 L580.62,132.88 L583.10,134.80 L585.57,136.77 L588.04,138.78 L590.52,140.84 L592.99,142.94 L595.46,145.08 L597.94,147.27 L600.41,149.49 L602.88,151.76 L605.36,154.06 L607.83,156.41 L610.30,158.79 L612.78,161.21 L615.25,163.66 L617.72,166.15 L620.20,168.68 L622.67,171.23 L625.14,173.82 L627.61,176.44 L630.09,179.09 L632.56,181.76 L635.03,184.46 L637.51,187.18 L639.98,189.93 L642.45,192.69 L644.93,195.48 L647.40,198.28 L649.87,201.10 L652.35,203.93 L654.82,206.77 L657.29,209.63 L659.77,212.49 L662.24,215.36 L664.71,218.24 L667.18,221.12 L669.66,224.00 L672.13,226.88 L674.60,229.75 L677.08,232.62 L679.55,235.49 L682.02,238.35 L684.50,241.20 L686.97,244.03 L689.44,246.86 L691.92,249.67 L694.39,252.46 L696.86,255.23 L699.34,257.98 L701.81,260.71 L704.28,263.42 L706.75,266.10 L709.23,268.53 L711.70,270.27 L714.17,271.98 L716.65,273.67 L719.12,275.32 L721.59,276.93 L724.07,278.51 L726.54,280.06 L729.01,281.57 L731.49,283.03 L733.96,284.46 L736.43,285.85 L738.91,287.20 L741.38,288.51 L743.85,289.77 L746.32,290.99 L748.80,292.16 L751.27,293.29 L753.74,294.37 L756.22,295.41 L758.69,296.40 L761.16,297.35 L763.64,298.24 L766.11,299.09 L768.58,299.89 L771.06,300.65 L773.53,301.35 L776.00,302.01 L778.48,302.62 L780.95,303.18 L783.42,303.69 L785.89,304.16 L788.37,304.57 L790.84,304.94 L793.31,305.27 L795.79,305.54 L798.26,305.77 L800.73,305.95 L803.21,306.09 L805.68,306.19 L808.15,306.23 L810.63,306.24 L813.10,306.20 L815.57,306.11 L818.05,305.99 L820.52,305.82 L822.99,305.61 L825.46,305.36 L827.94,305.08 L830.41,304.75 L832.88,304.38 L835.36,303.98 L837.83,303.54 L840.30,303.06 L842.78,302.55 L845.25,302.01 L847.72,301.43 L850.20,300.82 L852.67,300.17 L855.14,299.50 L857.62,298.79 L860.09,298.05 L862.56,297.29 L865.03,296.50 L867.51,295.68 L869.98,294.83 L872.45,293.96 L874.93,293.06 L877.40,292.14 L879.87,291.20 L882.35,290.23 L884.82,289.24 L887.29,288.23 L889.77,287.20 L892.24,286.15 L894.71,285.08 L897.19,283.99 L899.66,282.89 L902.13,281.76 L904.60,280.63 L907.08,279.47 L909.55,278.30 L912.02,277.11 L914.50,275.92 L916.97,274.70 L919.44,273.48 L921.92,272.24 L924.39,270.99 L926.86,269.73 L929.34,268.46 L931.81,267.17 L934.28,265.88 L936.76,264.58 L939.23,263.27 L941.70,261.95 L944.17,260.62 L946.65,259.28 L949.12,257.94 L951.59,256.59 L954.07,255.23 L956.54,253.87 L959.01,252.50 L961.49,251.12 L963.96,249.74 L966.43,248.35 L968.91,246.96 L971.38,245.56 L973.85,244.16 L976.33,242.75 L978.80,241.34 L981.27,239.93 L983.74,238.51 L986.22,237.09 L988.69,235.67 L991.16,234.24 L993.64,232.81 L996.11,231.38 L998.58,229.94 L1001.06,228.51 L1003.53,227.07 L1006.00,225.63 L1008.48,224.18 L1010.95,222.74 L1013.42,221.29 L1015.90,219.84 L1018.37,218.39 L1020.84,216.94 L1023.31,215.48 L1025.79,214.03 L1028.26,212.57 L1030.73,211.11 L1033.21,209.66 L1035.68,208.20 L1038.15,206.74 L1040.63,205.28 L1043.10,203.81 L1045.57,202.35 L1048.05,200.89 L1050.52,199.42 L1052.99,197.96 L1055.47,196.50 L1057.94,195.03 L1060.41,193.56 L1062.88,192.10 L1065.36,190.63 L1067.83,189.16 L1070.30,187.70 L1072.78,186.23 L1075.25,184.76 L1077.72,183.29 L1080.20,181.82 L1082.67,180.35 L1085.14,178.88 L1087.62,177.41 L1090.09,175.94 L1092.56,174.47 L1095.04,173.00 L1097.51,171.53 L1099.98,170.06 L1102.45,168.59 L1104.93,167.12 L1107.40,165.65 L1109.87,164.18 L1112.35,162.71 L1114.82,161.24 L1117.29,159.77 L1119.77,158.29 L1122.24,156.82 L1124.71,155.35 L1127.19,153.88 L1129.66,152.41 L1132.13,150.94 L1134.61,149.46 L1137.08,147.99 L1139.55,146.52 L1142.03,145.05 L1144.50,143.58 L1146.97,142.11 L1149.44,140.63 L1151.92,139.16 L1154.39,137.69 L1156.86,136.22 L1159.34,134.75 L1161.81,133.27 L1164.28,131.80" fill="none" stroke="#000" stroke-width="2" stroke-linecap="round"/><line x1="170.5" y1="41" x2="170.5" y2="282" stroke="#c8c8c8" stroke-width="1.6"/><line x1="170" y1="281.5" x2="1179" y2="281.5" stroke="#d6d6d6" stroke-width="2"/><circle cx="244" cy="68" r="3" fill="#111"/><text transform="translate(306.8,18) scale(0.966,1)" font-size="14" fill="#000" font-family='"Liberation Sans", sans-serif' xml:space="preserve">Портфель: Ось X: 67593 Ось Y:  (Текущий 26727,2)  (+1 дн. 26727)  (+10 дн. 26727)  (На экспирацию 26727)</text></svg>
<div class="a" style="left:0;top:0;width:58px;height:341px;overflow:hidden"><div class="a" style="left:0;top:-4px;width:8px;height:13px;background:#555555"></div><div class="a" style="left:14px;top:-4px;width:18px;height:13px;background:#2b4cff"></div><div class="a" style="left:0;top:19px;width:8px;height:13px;background:#a9a9a9"></div><div class="a" style="left:14px;top:19px;width:18px;height:13px;background:#7aa8ff"></div><div class="a" style="left:0;top:45px;width:8px;height:13px;background:#c0c0c0"></div><div class="a" style="left:14px;top:45px;width:18px;height:13px;background:#aadcff"></div><div class="a" style="left:0;top:69px;width:8px;height:13px;background:#1e1e1e"></div><div class="a" style="left:14px;top:69px;width:18px;height:13px;background:#0000cd"></div><div class="a" style="left:-4px;top:92px;font-size:12px;line-height:14px;white-space:nowrap">ией</div><div class="a" style="left:-6px;top:114px;width:36px;height:19px;border:1px solid #707070;border-radius:3px;background:linear-gradient(#f2f2f2 0,#ebebeb 50%,#dddddd 51%,#cfcfcf 100%)"></div><div class="a" style="left:19.5px;top:122px;width:0;height:0;border-left:4px solid transparent;border-right:4px solid transparent;border-top:5px solid #000"></div><div class="a" style="left:-10px;top:147px;width:44px;height:150px;border:1px solid #d5dfe5;border-radius:3px"></div><div class="a" style="left:-10px;top:312px;width:44px;height:60px;border:1px solid #d5dfe5;border-radius:3px"></div><div class="a" style="left:3px;top:324px;width:24px;height:20px;border:1px solid #707070;border-radius:3px;background:linear-gradient(#f2f2f2 0,#ebebeb 45%,#dddddd 50%,#cfcfcf 100%)"></div><div class="a" style="left:13px;top:329px;font-size:11px;line-height:12px">&gt;</div><div class="a" style="left:42px;top:0;width:16px;height:341px;background:#efefef;border-left:1px solid #f8f8f8"></div><div class="a" style="left:42px;top:15px;width:13px;height:201px;border:1px solid #8e8f8f;border-radius:2px;background:linear-gradient(90deg,#f3f3f3 0,#eaeaea 40%,#d6d6d6 55%,#c6c6cb 100%)"></div><div class="a" style="left:46px;top:112px;width:7px;height:1px;background:#505050"></div><div class="a" style="left:46px;top:115px;width:7px;height:1px;background:#505050"></div><div class="a" style="left:46px;top:118px;width:7px;height:1px;background:#505050"></div><div class="a" style="left:47px;top:2px;width:0;height:0;border-left:3.5px solid transparent;border-right:3.5px solid transparent;border-bottom:4px solid #202020"></div><div class="a" style="left:47px;top:331px;width:0;height:0;border-left:3.5px solid transparent;border-right:3.5px solid transparent;border-top:4px solid #303030"></div></div><div class="a" style="left:0;top:341px;width:1217px;height:1px;background:#ffffff"></div><div class="a" style="left:0;top:342px;width:1217px;height:1px;background:#ffffff"></div><div class="a" style="left:0;top:343px;width:1217px;height:1px;background:#80848e"></div><div class="a" style="left:0;top:344px;width:1217px;height:1px;background:#ffffff"></div><div class="a" style="left:0;top:345px;width:1217px;height:4px;background:#d4d4d4"></div><div class="a" style="left:0;top:355px;width:1217px;height:1px;background:#dbe4ec"></div><div class="a" style="left:0;top:356px;width:1217px;height:1px;background:#ffffff"></div><div class="a btn" style="left:-32px;top:370px;width:52px;height:19px"><span style="font-size:12px">Импорт</span></div><div class="a btn" style="left:30px;top:370px;width:53px;height:19px"><span style="font-size:12px">Удалить</span></div><div class="a btn" style="left:93px;top:370px;width:68px;height:19px"><span style="font-size:12px">Сохранить</span></div><div class="a" style="left:178px;top:375px;width:11px;height:11px;border:1px solid #c5c5c5;background:#f4f4f4"></div><div class="a" style="left:197px;top:374px;font-size:12px;line-height:14px;color:#6d6d6d">DH</div><div class="a" style="left:226px;top:372px;width:31px;height:18px;border:1px solid #ababab;box-shadow:inset 0 0 0 1px #fff;background:#f0f0f0"></div><div class="a" style="left:228px;top:374px;font-size:12px;line-height:14px">0</div><div class="a" style="left:243px;top:374px;width:12px;height:14px;border:1px solid #ababab;border-top:none;background:#fff"></div><div class="a" style="left:244px;top:374px;width:12px;height:7px;background:linear-gradient(#f6f6f6,#e6e6e6)"></div><div class="a" style="left:244px;top:382px;width:12px;height:7px;background:linear-gradient(#f6f6f6,#e6e6e6)"></div><div class="a" style="left:244px;top:381px;width:12px;height:1px;background:#ababab"></div><div class="a" style="left:247px;top:376px;width:0;height:0;border-left:3px solid transparent;border-right:3px solid transparent;border-bottom:3px solid #5565b5"></div><div class="a" style="left:247px;top:384px;width:0;height:0;border-left:3px solid transparent;border-right:3px solid transparent;border-top:3px solid #5565b5"></div><div class="a" style="left:265px;top:372px;width:31px;height:18px;border:1px solid #ababab;box-shadow:inset 0 0 0 1px #fff;background:#f0f0f0"></div><div class="a" style="left:267px;top:374px;font-size:12px;line-height:14px">1</div><div class="a" style="left:282px;top:374px;width:12px;height:14px;border:1px solid #ababab;border-top:none;background:#fff"></div><div class="a" style="left:283px;top:374px;width:12px;height:7px;background:linear-gradient(#f6f6f6,#e6e6e6)"></div><div class="a" style="left:283px;top:382px;width:12px;height:7px;background:linear-gradient(#f6f6f6,#e6e6e6)"></div><div class="a" style="left:283px;top:381px;width:12px;height:1px;background:#ababab"></div><div class="a" style="left:286px;top:376px;width:0;height:0;border-left:3px solid transparent;border-right:3px solid transparent;border-bottom:3px solid #5565b5"></div><div class="a" style="left:286px;top:384px;width:0;height:0;border-left:3px solid transparent;border-right:3px solid transparent;border-top:3px solid #5565b5"></div><div class="a" style="left:332px;top:374px;width:11px;height:11px;border:1px solid #8e8f8f;box-shadow:inset 0 0 0 1px #fafafa"></div><div class="a" style="left:335px;top:377px;width:7px;height:7px;background:linear-gradient(135deg,#d2d2d2,#f6f6f6)"></div><div class="a lb" style="left:351px;top:374px">M</div><div class="a lb" style="left:427px;top:374px">D</div><div class="a" style="left:445px;top:371px;width:29px;height:18px;border:1px solid #e0e2e8;border-top-color:#ababab;border-radius:2px;box-shadow:inset 0 0 0 1px #fff;background:#f4f4f4;font-size:12px;line-height:18px;text-align:center;color:#000">0</div><div class="a lb" style="left:484px;top:374px">V1</div><div class="a" style="left:508px;top:371px;width:29px;height:18px;border:1px solid #e0e2e8;border-top-color:#ababab;border-radius:2px;box-shadow:inset 0 0 0 1px #fff;background:#f4f4f4;font-size:12px;line-height:18px;text-align:center;color:#000">0</div><div class="a lb" style="left:547px;top:374px">V2</div><div class="a" style="left:571px;top:371px;width:30px;height:18px;border:1px solid #e0e2e8;border-top-color:#ababab;border-radius:2px;box-shadow:inset 0 0 0 1px #fff;background:#f4f4f4;font-size:12px;line-height:18px;text-align:center;color:#000">0</div><div class="a lb" style="left:637px;top:374px">P1</div><div class="a" style="left:654px;top:371px;width:53px;height:18px;border:1px solid #e0e2e8;border-top-color:#ababab;border-radius:2px;box-shadow:inset 0 0 0 1px #fff;background:#f4f4f4;font-size:12px;line-height:18px;text-align:center;color:#000">0</div><div class="a lb" style="left:718px;top:374px">SiZ0 73955</div><div class="a lb" style="left:789px;top:375px">P2</div><div class="a" style="left:815px;top:372px;width:55px;height:18px;border:1px solid #e0e2e8;border-top-color:#ababab;border-radius:2px;box-shadow:inset 0 0 0 1px #fff;background:#f4f4f4;font-size:12px;line-height:18px;text-align:center;color:#8d8d8d">0</div><div class="a lb" style="left:881px;top:374px">SiZ0 73955</div><div class="a btn" style="left:953px;top:369px;width:91px;height:19px"><span style="font-size:12px">Рассчитать ГО</span></div><div class="a btn" style="left:1201px;top:369px;width:38px;height:19px"><span style="font-size:12px"></span></div><div class="a" style="left:1208px;top:385px;width:6px;height:1px;background:#000"></div><div class="a" style="left:0;top:398px;width:1217px;height:1px;background:#000"></div><div class="a" style="left:0;top:399px;width:1217px;height:2px;background:#ffffff"></div><div class="a" style="left:0;top:401px;width:1217px;height:28px;background:#d4d4d4"></div><div class="a" style="left:0;top:429px;width:1217px;height:1px;background:#a0a0a0"></div><div class="a hd" style="left:-79px;top:401px;width:296px;height:28px"><span>Код бумаги</span></div><div class="a" style="left:217px;top:402px;width:1px;height:26px;background:#a8a8a8"></div><div class="a" style="left:218px;top:402px;width:1px;height:26px;background:#ffffff"></div><div class="a hd" style="left:218px;top:401px;width:68px;height:28px"><span>Тип<br>опциона</span></div><div class="a" style="left:286px;top:402px;width:1px;height:26px;background:#a8a8a8"></div><div class="a" style="left:287px;top:402px;width:1px;height:26px;background:#ffffff"></div><div class="a hd" style="left:287px;top:401px;width:86px;height:28px"><span>Дата<br>погашения</span></div><div class="a" style="left:373px;top:402px;width:1px;height:26px;background:#a8a8a8"></div><div class="a" style="left:374px;top:402px;width:1px;height:26px;background:#ffffff"></div><div class="a hd" style="left:374px;top:401px;width:101px;height:28px"><span>Дней до<br>погашения</span></div><div class="a" style="left:475px;top:402px;width:1px;height:26px;background:#a8a8a8"></div><div class="a" style="left:476px;top:402px;width:1px;height:26px;background:#ffffff"></div><div class="a hd" style="left:476px;top:401px;width:71px;height:28px"><span>Количество</span></div><div class="a" style="left:547px;top:402px;width:1px;height:26px;background:#a8a8a8"></div><div class="a" style="left:548px;top:402px;width:1px;height:26px;background:#ffffff"></div><div class="a hd" style="left:548px;top:401px;width:80px;height:28px"><span>Цена<br>открытия</span></div><div class="a" style="left:628px;top:402px;width:1px;height:26px;background:#a8a8a8"></div><div class="a" style="left:629px;top:402px;width:1px;height:26px;background:#ffffff"></div><div class="a hd" style="left:629px;top:401px;width:126px;height:28px"><span>Волатильность<br>открытия</span></div><div class="a" style="left:755px;top:402px;width:1px;height:26px;background:#a8a8a8"></div><div class="a" style="left:756px;top:402px;width:1px;height:26px;background:#ffffff"></div><div class="a hd" style="left:756px;top:401px;width:104px;height:28px"><span>Теоретическая<br>цена</span></div><div class="a" style="left:860px;top:402px;width:1px;height:26px;background:#a8a8a8"></div><div class="a" style="left:861px;top:402px;width:1px;height:26px;background:#ffffff"></div><div class="a hd" style="left:861px;top:401px;width:51px;height:28px"><span>Профит</span></div><div class="a" style="left:912px;top:402px;width:1px;height:26px;background:#a8a8a8"></div><div class="a" style="left:913px;top:402px;width:1px;height:26px;background:#ffffff"></div><div class="a hd" style="left:913px;top:401px;width:89px;height:28px"><span>Волатильность</span></div><div class="a" style="left:1002px;top:402px;width:1px;height:26px;background:#a8a8a8"></div><div class="a" style="left:1003px;top:402px;width:1px;height:26px;background:#ffffff"></div><div class="a hd" style="left:1003px;top:401px;width:50px;height:28px"><span>Дельта</span></div><div class="a" style="left:1053px;top:402px;width:1px;height:26px;background:#a8a8a8"></div><div class="a" style="left:1054px;top:402px;width:1px;height:26px;background:#ffffff"></div><div class="a hd" style="left:1054px;top:401px;width:55px;height:28px"><span>Гамма</span></div><div class="a" style="left:1109px;top:402px;width:1px;height:26px;background:#a8a8a8"></div><div class="a" style="left:1110px;top:402px;width:1px;height:26px;background:#ffffff"></div><div class="a hd" style="left:1110px;top:401px;width:43px;height:28px"><span>Вега</span></div><div class="a" style="left:1153px;top:402px;width:1px;height:26px;background:#a8a8a8"></div><div class="a" style="left:1154px;top:402px;width:1px;height:26px;background:#ffffff"></div><div class="a hd" style="left:1154px;top:401px;width:43px;height:28px"><span>Тета</span></div><div class="a" style="left:1197px;top:402px;width:1px;height:26px;background:#a8a8a8"></div><div class="a" style="left:1198px;top:402px;width:1px;height:26px;background:#ffffff"></div><div class="a hd" style="left:1198px;top:401px;width:23px;height:28px"><span>X</span></div><div class="a cell" style="left:-79px;top:430px;width:296px;height:21px;"><span>Si73000BX0</span></div><div class="a cell" style="left:218px;top:430px;width:68px;height:21px;"><span>Put</span></div><div class="a cell" style="left:287px;top:430px;width:86px;height:21px;"><span>17.12.2020</span></div><div class="a cell" style="left:374px;top:430px;width:101px;height:21px;"><span>13</span></div><div class="a cell" style="left:476px;top:430px;width:71px;height:21px;"><span>-20</span></div><div class="a cell" style="left:548px;top:430px;width:80px;height:21px;"><span>142</span></div><div class="a cell" style="left:629px;top:430px;width:126px;height:21px;"><span>8,61</span></div><div class="a cell" style="left:756px;top:430px;width:104px;height:21px;"><span>340,36</span></div><div class="a cell" style="left:861px;top:430px;width:51px;height:21px;background:#ffb6c1;"><span>-3967,2</span></div><div class="a cell" style="left:913px;top:430px;width:89px;height:21px;"><span>13,06</span></div><div class="a cell" style="left:1003px;top:430px;width:50px;height:21px;"><span>5,88</span></div><div class="a cell" style="left:1054px;top:430px;width:55px;height:21px;"><span>-0,003796</span></div><div class="a cell" style="left:1110px;top:430px;width:43px;height:21px;"><span>-957,22</span></div><div class="a cell" style="left:1154px;top:430px;width:43px;height:21px;"><span>485,13</span></div><div class="a btn" style="left:1199px;top:432px;width:20px;height:16px;border-right:none;border-radius:3px 0 0 3px"><span style="font-size:12px">X</span></div><div class="a" style="left:0;top:451px;width:1217px;height:1px;background:#000"></div><div class="a cell" style="left:-79px;top:452px;width:296px;height:21px;"><span>Si75000BX0</span></div><div class="a cell" style="left:218px;top:452px;width:68px;height:21px;"><span>Put</span></div><div class="a cell" style="left:287px;top:452px;width:86px;height:21px;"><span>17.12.2020</span></div><div class="a cell" style="left:374px;top:452px;width:101px;height:21px;"><span>13</span></div><div class="a cell" style="left:476px;top:452px;width:71px;height:21px;"><span>20</span></div><div class="a cell" style="left:548px;top:452px;width:80px;height:21px;"><span>796</span></div><div class="a cell" style="left:629px;top:452px;width:126px;height:21px;"><span>0</span></div><div class="a cell" style="left:756px;top:452px;width:104px;height:21px;"><span>1427,2</span></div><div class="a cell" style="left:861px;top:452px;width:51px;height:21px;background:#90ee90;"><span>12624</span></div><div class="a cell" style="left:913px;top:452px;width:89px;height:21px;"><span>14,3</span></div><div class="a cell" style="left:1003px;top:452px;width:50px;height:21px;"><span>-13,89</span></div><div class="a cell" style="left:1054px;top:452px;width:55px;height:21px;"><span>0,003528</span></div><div class="a cell" style="left:1110px;top:452px;width:43px;height:21px;"><span>974,03</span></div><div class="a cell" style="left:1154px;top:452px;width:43px;height:21px;"><span>-540,53</span></div><div class="a btn" style="left:1199px;top:454px;width:20px;height:16px;border-right:none;border-radius:3px 0 0 3px"><span style="font-size:12px">X</span></div><div class="a" style="left:0;top:473px;width:1217px;height:1px;background:#000"></div><div class="a cell" style="left:-79px;top:474px;width:296px;height:21px;"><span>Si74500BL0B</span></div><div class="a cell" style="left:218px;top:474px;width:68px;height:21px;"><span>Call</span></div><div class="a cell" style="left:287px;top:474px;width:86px;height:21px;"><span>10.12.2020</span></div><div class="a cell" style="left:374px;top:474px;width:101px;height:21px;"><span>6</span></div><div class="a cell" style="left:476px;top:474px;width:71px;height:21px;"><span>3</span></div><div class="a cell" style="left:548px;top:474px;width:80px;height:21px;"><span>233</span></div><div class="a cell" style="left:629px;top:474px;width:126px;height:21px;"><span>12,07</span></div><div class="a cell" style="left:756px;top:474px;width:104px;height:21px;"><span>226,04</span></div><div class="a cell" style="left:861px;top:474px;width:51px;height:21px;background:#ffb6c1;"><span>-20,88</span></div><div class="a cell" style="left:913px;top:474px;width:89px;height:21px;"><span>11,86</span></div><div class="a cell" style="left:1003px;top:474px;width:50px;height:21px;"><span>0,95</span></div><div class="a cell" style="left:1054px;top:474px;width:55px;height:21px;"><span>0,000957</span></div><div class="a cell" style="left:1110px;top:474px;width:43px;height:21px;"><span>100,35</span></div><div class="a cell" style="left:1154px;top:474px;width:43px;height:21px;"><span>-100,8</span></div><div class="a btn" style="left:1199px;top:476px;width:20px;height:16px;border-right:none;border-radius:3px 0 0 3px"><span style="font-size:12px">X</span></div><div class="a" style="left:0;top:495px;width:1217px;height:1px;background:#000"></div><div class="a cell" style="left:-79px;top:496px;width:296px;height:21px;"><span>Si74500BL0</span></div><div class="a cell" style="left:218px;top:496px;width:68px;height:21px;"><span>Call</span></div><div class="a cell" style="left:287px;top:496px;width:86px;height:21px;"><span>17.12.2020</span></div><div class="a cell" style="left:374px;top:496px;width:101px;height:21px;"><span>13</span></div><div class="a cell" style="left:476px;top:496px;width:71px;height:21px;"><span>2</span></div><div class="a cell" style="left:548px;top:496px;width:80px;height:21px;"><span>517</span></div><div class="a cell" style="left:629px;top:496px;width:126px;height:21px;"><span>13,64</span></div><div class="a cell" style="left:756px;top:496px;width:104px;height:21px;"><span>525,31</span></div><div class="a cell" style="left:861px;top:496px;width:51px;height:21px;background:#90ee90;"><span>16,62</span></div><div class="a cell" style="left:913px;top:496px;width:89px;height:21px;"><span>13,79</span></div><div class="a cell" style="left:1003px;top:496px;width:50px;height:21px;"><span>0,79</span></div><div class="a cell" style="left:1054px;top:496px;width:55px;height:21px;"><span>0,000401</span></div><div class="a cell" style="left:1110px;top:496px;width:43px;height:21px;"><span>106,88</span></div><div class="a cell" style="left:1154px;top:496px;width:43px;height:21px;"><span>-57,2</span></div><div class="a btn" style="left:1199px;top:498px;width:20px;height:16px;border-right:none;border-radius:3px 0 0 3px"><span style="font-size:12px">X</span></div><div class="a" style="left:0;top:517px;width:1217px;height:1px;background:#000"></div><div class="a cell" style="left:-79px;top:518px;width:296px;height:21px;"><span>FixedProfit</span></div><div class="a cell" style="left:218px;top:518px;width:68px;height:21px;"><span></span></div><div class="a cell" style="left:287px;top:518px;width:86px;height:21px;"><span></span></div><div class="a cell" style="left:374px;top:518px;width:101px;height:21px;"><span></span></div><div class="a cell" style="left:476px;top:518px;width:71px;height:21px;"><span></span></div><div class="a cell" style="left:548px;top:518px;width:80px;height:21px;"><span></span></div><div class="a cell" style="left:629px;top:518px;width:126px;height:21px;"><span></span></div><div class="a cell" style="left:756px;top:518px;width:104px;height:21px;"><span></span></div><div class="a cell" style="left:861px;top:518px;width:51px;height:21px;background:#ffb6c1;"><span>-380</span></div><div class="a cell" style="left:913px;top:518px;width:89px;height:21px;"><span></span></div><div class="a cell" style="left:1003px;top:518px;width:50px;height:21px;"><span></span></div><div class="a cell" style="left:1054px;top:518px;width:55px;height:21px;"><span></span></div><div class="a cell" style="left:1110px;top:518px;width:43px;height:21px;"><span></span></div><div class="a cell" style="left:1154px;top:518px;width:43px;height:21px;"><span></span></div><div class="a btn" style="left:1199px;top:520px;width:20px;height:16px;border-right:none;border-radius:3px 0 0 3px"><span style="font-size:12px">X</span></div><div class="a" style="left:0;top:539px;width:1217px;height:1px;background:#000"></div><div class="a cell" style="left:-79px;top:540px;width:296px;height:21px;"><span>Итого:</span></div><div class="a cell" style="left:218px;top:540px;width:68px;height:21px;"><span></span></div><div class="a cell" style="left:287px;top:540px;width:86px;height:21px;"><span></span></div><div class="a cell" style="left:374px;top:540px;width:101px;height:21px;"><span></span></div><div class="a cell" style="left:476px;top:540px;width:71px;height:21px;"><span></span></div><div class="a cell" style="left:548px;top:540px;width:80px;height:21px;"><span></span></div><div class="a cell" style="left:629px;top:540px;width:126px;height:21px;"><span></span></div><div class="a cell" style="left:756px;top:540px;width:104px;height:21px;"><span></span></div><div class="a cell" style="left:861px;top:540px;width:51px;height:21px;background:#90ee90;"><span>8272,54</span></div><div class="a cell" style="left:913px;top:540px;width:89px;height:21px;"><span></span></div><div class="a cell" style="left:1003px;top:540px;width:50px;height:21px;"><span>-6,27</span></div><div class="a cell" style="left:1054px;top:540px;width:55px;height:21px;"><span>0,00109</span></div><div class="a cell" style="left:1110px;top:540px;width:43px;height:21px;"><span>224,04</span></div><div class="a cell" style="left:1154px;top:540px;width:43px;height:21px;"><span>-213,4</span></div><div class="a btn" style="left:1199px;top:542px;width:20px;height:16px;border-right:none;border-radius:3px 0 0 3px"><span style="font-size:12px">X</span></div><div class="a" style="left:0;top:561px;width:1217px;height:1px;background:#000"></div><div class="a" style="left:217px;top:430px;width:1px;height:132px;background:#000"></div><div class="a" style="left:286px;top:430px;width:1px;height:132px;background:#000"></div><div class="a" style="left:373px;top:430px;width:1px;height:132px;background:#000"></div><div class="a" style="left:475px;top:430px;width:1px;height:132px;background:#000"></div><div class="a" style="left:547px;top:430px;width:1px;height:132px;background:#000"></div><div class="a" style="left:628px;top:430px;width:1px;height:132px;background:#000"></div><div class="a" style="left:755px;top:430px;width:1px;height:132px;background:#000"></div><div class="a" style="left:860px;top:430px;width:1px;height:132px;background:#000"></div><div class="a" style="left:912px;top:430px;width:1px;height:132px;background:#000"></div><div class="a" style="left:1002px;top:430px;width:1px;height:132px;background:#000"></div><div class="a" style="left:1053px;top:430px;width:1px;height:132px;background:#000"></div><div class="a" style="left:1109px;top:430px;width:1px;height:132px;background:#000"></div><div class="a" style="left:1153px;top:430px;width:1px;height:132px;background:#000"></div><div class="a" style="left:1197px;top:430px;width:1px;height:132px;background:#000"></div>
</body></html>
